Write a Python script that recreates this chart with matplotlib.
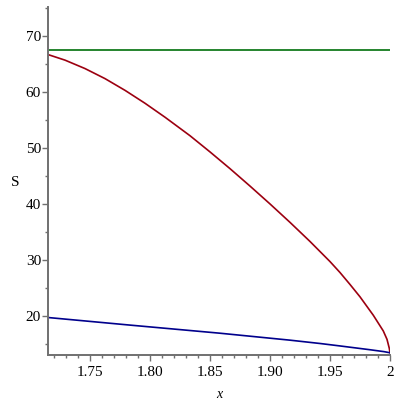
import matplotlib
matplotlib.use('Agg')
import matplotlib.pyplot as plt
from matplotlib.ticker import MultipleLocator

# values
x_red = [1.715, 1.7292, 1.7458, 1.7625, 1.7792, 1.7958, 1.8125, 1.8333, 1.85,
         1.8667, 1.8833, 1.90, 1.9167, 1.9333, 1.95, 1.9583, 1.9667, 1.975,
         1.9861, 1.9944, 1.9975, 1.9994, 2.0]
s_red = [66.7, 65.7, 64.2, 62.4, 60.3, 58.0, 55.5, 52.2, 49.3,
         46.3, 43.2, 40.0, 36.7, 33.3, 29.7, 27.75, 25.6, 23.4,
         20.1, 17.3, 15.8, 14.2, 13.4]

x_blue = [1.715, 1.783, 1.858, 1.9167, 1.942, 1.9583, 1.983, 1.995, 2.0]
s_blue = [19.7, 18.35, 16.9, 15.65, 15.05, 14.62, 13.95, 13.6, 13.4]

x_green = [1.715, 2.0]
s_green = [67.5, 67.5]

xticks = [1.75, 1.80, 1.85, 1.90, 1.95, 2.0]
xticklabels = ['1.75', '1.80', '1.85', '1.90', '1.95', '2']
yticks = [20, 30, 40, 50, 60, 70]

plt.rcParams['font.family'] = ['Liberation Serif', 'DejaVu Serif']

fig = plt.figure(figsize=(4, 4), dpi=100)
ax = fig.add_axes([0.12, 0.1125, 0.855, 0.87])

ax.plot(x_green, s_green, color='#00700a', lw=1.2)
ax.plot(x_red, s_red, color='#9c0010', lw=1.2)
ax.plot(x_blue, s_blue, color='#00008c', lw=1.2)

ax.set_xlim(1.715, 2.0)
ax.set_ylim(13.0, 75.2)

for side in ('top', 'right'):
    ax.spines[side].set_visible(False)
for side in ('left', 'bottom'):
    ax.spines[side].set_color('#707070')
    ax.spines[side].set_linewidth(1.4)

ax.set_xticks(xticks)
ax.set_xticklabels(xticklabels)
ax.set_yticks(yticks)
ax.xaxis.set_minor_locator(MultipleLocator(0.01))
ax.yaxis.set_minor_locator(MultipleLocator(5))
ax.tick_params(which='major', length=4, width=1, color='#707070', labelsize=11)
ax.tick_params(axis='x', which='major', pad=4)
ax.tick_params(axis='y', which='major', pad=1)
ax.tick_params(which='minor', length=2.5, width=1, color='#707070')

ax.set_xlabel('x', style='italic', fontsize=10)
ax.xaxis.set_label_coords(0.5, -0.095)
ax.set_ylabel('S', rotation=0, fontsize=11, va='center', ha='center')
ax.yaxis.set_label_coords(-0.097, 0.497)

fig.savefig('out.png', dpi=100)
